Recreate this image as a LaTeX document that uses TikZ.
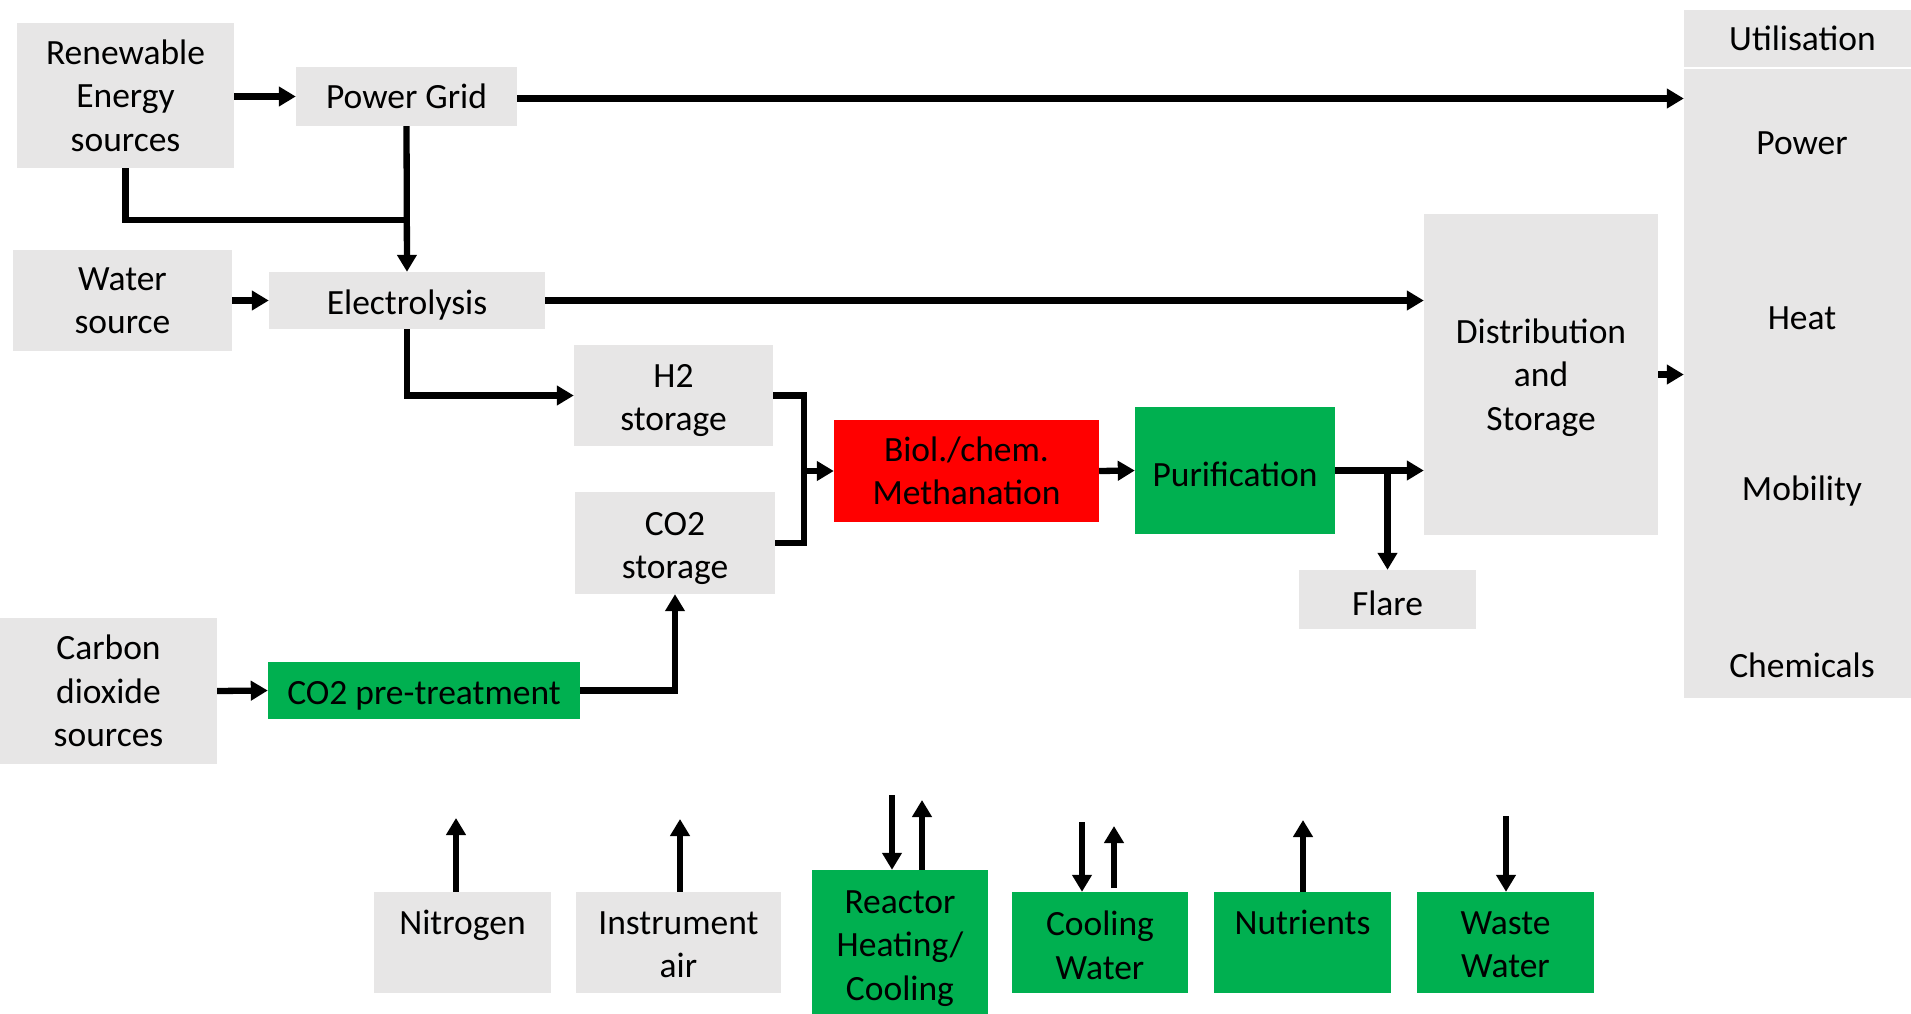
\documentclass[tikz,border=0pt]{standalone}
\usepackage{fontspec}
\setmainfont{Carlito}
\usetikzlibrary{arrows.meta}
\definecolor{graybox}{HTML}{E7E6E6}
\definecolor{redbox}{HTML}{FF0000}
\definecolor{greenbox}{HTML}{00B050}
\newcommand\toprule[1]{\rule{0pt}{#1pt}}
\begin{document}
\begin{tikzpicture}[x=1pt,y=-1pt,
  box/.style={fill=graybox, inner sep=0pt, align=center, font=\fontsize{35.5}{43.5}\selectfont},
  one/.style={execute at begin node={\rule{0pt}{33pt}}},
  redb/.style={box, fill=redbox},
  greenb/.style={box, fill=greenbox},
  lbl/.style={inner sep=0pt, font=\fontsize{35.5}{43.5}\selectfont},
  conn/.style={line width=6.3pt},
  arr/.style={conn, -{Triangle[length=17pt,width=19pt]}}]
\useasboundingbox (0,0) rectangle (1911,1014);
% boxes
\node[box, minimum width=217, minimum height=145] (ren) at (125.5,95.5) {Renewable\\Energy\\sources};
\node[box, minimum width=221, minimum height=59] (pg) at (406.5,96.5) {Power Grid};
\node[box, minimum width=219, minimum height=101] (water) at (122.5,300.5) {Water\\source};
\node[box, one, minimum width=276, minimum height=57] (elec) at (407,300.5) {Electrolysis};
\node[box, minimum width=199, minimum height=101] (h2) at (673.5,395.5) {\toprule{33}H2\\storage};
\node[box, minimum width=200, minimum height=102] (co2) at (675,543) {\toprule{34}CO2\\storage};
\node[redb, minimum width=265, minimum height=102] (meth) at (966.5,471) {Biol./chem.\\Methanation};
\node[greenb, one, minimum width=200, minimum height=127] (pur) at (1235,470.5) {Purification};
\node[box, minimum width=234, minimum height=321] (dist) at (1541,374.5) {\toprule{30.5}Distribution\\and\\Storage};
\node[box, one, minimum width=177, minimum height=59] (flare) at (1387.5,599.5) {Flare};
\node[box, minimum width=227, minimum height=57] (uhead) at (1797.5,38.5) {\hspace*{10pt}Utilisation};
\node[box, minimum width=227, minimum height=629] (util) at (1797.5,383.5) {};
\node[lbl] (power) at (1802,143) {Power};
\node[lbl] (heat) at (1802,318) {Heat};
\node[lbl] (mob) at (1802,491) {Mobility};
\node[lbl] (chem) at (1802,665) {Chemicals};
\node[box, minimum width=217, minimum height=146] (cds) at (108.5,691) {Carbon\\dioxide\\sources};
\node[greenb, one, minimum width=312, minimum height=57] (pre) at (424,690.5) {CO2 pre-treatment};
\node[box, minimum width=177, minimum height=101] (nitro) at (462.5,942.5) {\toprule{27}Nitrogen\\\mbox{}};
\node[box, minimum width=205, minimum height=101] (instr) at (678.5,942.5) {\toprule{27}Instrument\\air};
\node[greenb, minimum width=176, minimum height=144] (react) at (900,942) {\toprule{35.5}Reactor\\Heating/\\Cooling};
\node[greenb, minimum width=176, minimum height=101] (cool) at (1100,942.5) {\toprule{30}Cooling\\Water};
\node[greenb, minimum width=177, minimum height=101] (nutr) at (1302.5,942.5) {\toprule{27}Nutrients\\\mbox{}};
\node[greenb, minimum width=177, minimum height=101] (waste) at (1505.5,942.5) {\toprule{27}Waste\\Water};
% connectors
\draw[arr] (pg.west -| ren.east) -- (pg.west);
\draw[arr] ([yshift=-2pt]pg.east) -- ([yshift=-2pt]pg.east -| util.west);
\draw[arr] (pg.south) -- (elec.north);
\coordinate (rj) at (407,220);
\draw[conn] (ren.south) |- (rj);
\draw[arr] (water.east) -- (elec.west);
\draw[arr] (elec.east) -- (elec.east -| dist.west);
\draw[arr] (elec.south) |- (h2.west);
\coordinate (jx) at (804,470);
\draw[conn] (h2.east) -| (jx) |- (co2.east);
\draw[arr] (jx |- meth.west) -- (meth.west);
\draw[arr] (meth.east) -- (pur.west);
\draw[arr] (pur.east) -- (pur.east -| dist.west);
\draw[arr] (pur.east -| flare.north) -- (flare.north);
\draw[arr] (dist.east) -- (dist.east -| util.west);
\draw[arr] (cds.east) -- (pre.west);
\draw[arr] (pre.east) -| (co2.south);
% bottom utilities
\coordinate (n1) at (456,818);
\draw[arr] (n1 |- nitro.north) -- (n1);
\coordinate (i1) at (680,819);
\draw[arr] (i1 |- instr.north) -- (i1);
\coordinate (r1) at (892,795);
\draw[arr] (r1) -- (r1 |- react.north);
\coordinate (r2) at (922,800);
\draw[arr] (r2 |- react.north) -- (r2);
\coordinate (c1) at (1082,822);
\draw[arr] (c1) -- (c1 |- cool.north);
\coordinate (c2) at (1114,826);
\coordinate (c3) at (1114,888);
\draw[arr] (c3) -- (c2);
\coordinate (u1) at (1303,820);
\draw[arr] (u1 |- nutr.north) -- (u1);
\coordinate (w1) at (1506,816);
\draw[arr] (w1) -- (w1 |- waste.north);
\end{tikzpicture}
\end{document}
